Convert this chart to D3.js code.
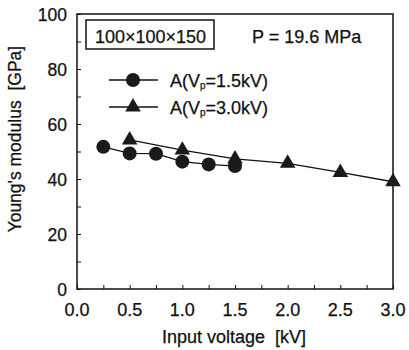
<!DOCTYPE html>
<html>
<head>
<meta charset="utf-8">
<script src="https://cdn.jsdelivr.net/npm/d3@7"></script>
<style>
  body { margin: 0; background: #fff; }
  text { font-family: "Liberation Sans", Arial, sans-serif; fill: #111; stroke: #111; stroke-width: 0.25px; white-space: pre; }
</style>
</head>
<body>
<svg id="chart" width="409" height="350"></svg>
<script>
// data
const xTicks = [0, 0.5, 1.0, 1.5, 2.0, 2.5, 3.0];
const yTicks = [0, 20, 40, 60, 80, 100];
const voltA15 = [0.25, 0.5, 0.75, 1.0, 1.25, 1.5];
const modA15 = [51.7, 49.3, 49.2, 46.3, 45.3, 44.7];
const voltA30 = [0.5, 1.0, 1.5, 2.0, 2.5, 3.0];
const modA30 = [54.2, 50.5, 47.3, 45.7, 42.4, 39.0];

const margin = {top: 14, right: 16, bottom: 61, left: 77};
const width = 409 - margin.left - margin.right;
const height = 350 - margin.top - margin.bottom;

const svg = d3.select("#chart")
  .append("g")
  .attr("transform", "translate(" + margin.left + "," + margin.top + ")");

const x = d3.scaleLinear().domain([0, 3]).range([0, width]);
const y = d3.scaleLinear().domain([0, 100]).range([height, 0]);

// frame
svg.append("rect")
  .attr("width", width).attr("height", height)
  .attr("fill", "none").attr("stroke", "#111").attr("stroke-width", 1.5);

// x axis (ticks inward)
const xAxis = svg.append("g")
  .attr("transform", "translate(0," + height + ")")
  .call(d3.axisBottom(x).tickValues(d3.range(0, 3.001, 0.25)).tickSize(-4).tickFormat(""));
xAxis.select(".domain").remove();
xAxis.selectAll("line").attr("stroke", "#111");

svg.selectAll(".xlab").data(xTicks).enter().append("text")
  .attr("x", d => x(d)).attr("y", height + 27)
  .attr("text-anchor", "middle").attr("font-size", 18)
  .text(d => d.toFixed(1));

// y axis
const yAxis = svg.append("g")
  .call(d3.axisLeft(y).tickValues(d3.range(0, 101, 10)).tickSize(-4).tickFormat(""));
yAxis.select(".domain").remove();
yAxis.selectAll("line").attr("stroke", "#111");

svg.selectAll(".ylab").data(yTicks).enter().append("text")
  .attr("x", -10).attr("y", d => y(d) + (d === 0 ? 7 : 6.5))
  .attr("text-anchor", "end").attr("font-size", 17.5)
  .text(d => d);

// axis titles
svg.append("text")
  .attr("x", width / 2 - 1).attr("y", height + 54)
  .attr("text-anchor", "middle").attr("font-size", 18)
  .text("Input voltage  [kV]");

svg.append("text")
  .attr("transform", "translate(" + (-56) + "," + (y(54.5)) + ") rotate(-90)")
  .attr("text-anchor", "middle").attr("font-size", 17.5)
  .text("Young's modulus  [GPa]");

// series
const line = d3.line().x(d => x(d[0])).y(d => y(d[1]));
const s15 = voltA15.map((v, i) => [v, modA15[i]]);
const s30 = voltA30.map((v, i) => [v, modA30[i]]);

svg.append("path").datum(s15).attr("d", line)
  .attr("fill", "none").attr("stroke", "#111").attr("stroke-width", 1.3);
svg.append("path").datum(s30).attr("d", line)
  .attr("fill", "none").attr("stroke", "#111").attr("stroke-width", 1.3);

const tri = d3.symbol().type(d3.symbolTriangle).size(105);

svg.selectAll(".c15").data(s15).enter().append("circle")
  .attr("cx", d => x(d[0])).attr("cy", d => y(d[1])).attr("r", 7)
  .attr("fill", "#1a1a1a");
svg.selectAll(".t30").data(s30).enter().append("path")
  .attr("d", tri)
  .attr("transform", d => "translate(" + x(d[0]) + "," + y(d[1]) + ")")
  .attr("fill", "#1a1a1a");

// annotation box
svg.append("rect")
  .attr("x", 9).attr("y", 6).attr("width", 128).attr("height", 29)
  .attr("fill", "none").attr("stroke", "#111").attr("stroke-width", 1.5);
svg.append("text").attr("x", 73.5).attr("y", 28.5)
  .attr("text-anchor", "middle").attr("font-size", 18).text("100×100×150");
svg.append("text").attr("x", 175).attr("y", 28.5)
  .attr("font-size", 18).text("P = 19.6 MPa");

// legend
const legend = [
  {label: "1.5kV", shape: "circle", yy: 66},
  {label: "3.0kV", shape: "tri", yy: 93}
];
legend.forEach(l => {
  svg.append("line").attr("x1", 32).attr("x2", 81).attr("y1", l.yy).attr("y2", l.yy)
    .attr("stroke", "#111").attr("stroke-width", 1.3);
  if (l.shape === "circle") {
    svg.append("circle").attr("cx", 56).attr("cy", l.yy).attr("r", 7).attr("fill", "#1a1a1a");
  } else {
    svg.append("path").attr("d", tri).attr("transform", "translate(56," + l.yy + ")").attr("fill", "#1a1a1a");
  }
  const t = svg.append("text").attr("x", 93).attr("y", l.yy + 6.5).attr("font-size", 18);
  t.append("tspan").text("A(V");
  t.append("tspan").attr("font-size", 10).attr("dy", 2).text("p");
  t.append("tspan").attr("dy", -2).text("=" + l.label + ")");
});
</script>
</body>
</html>
